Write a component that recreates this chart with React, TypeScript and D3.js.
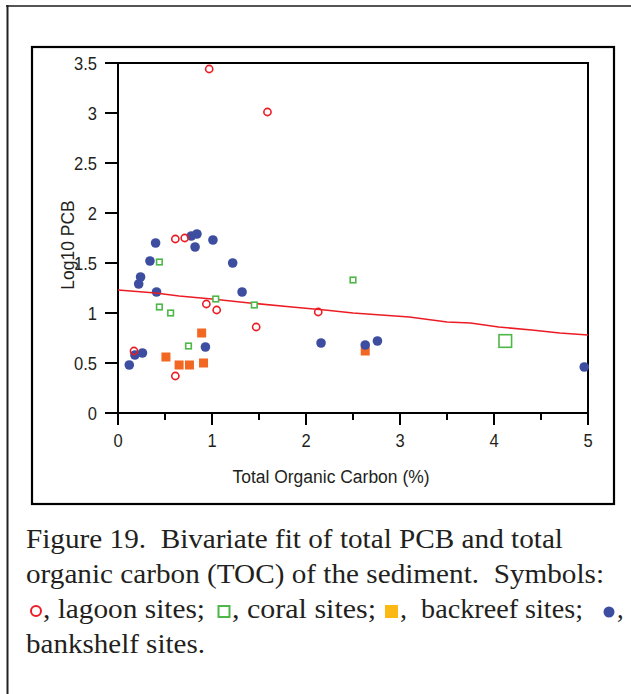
import React from "react";
import * as d3 from "d3";

// Total organic carbon (%) vs Log10 PCB, by site type
const lagoonX = [0.97, 1.59, 0.61, 0.71, 0.94, 1.05, 1.47, 2.13, 0.17, 0.61];
const lagoonY = [3.44, 3.01, 1.74, 1.75, 1.09, 1.03, 0.86, 1.01, 0.62, 0.37];

const coralX = [0.44, 0.44, 0.56, 1.04, 1.45, 0.75, 2.5];
const coralY = [1.51, 1.06, 1.0, 1.14, 1.08, 0.67, 1.33];

// coral sample plotted with an enlarged marker
const coralWideX = [4.12];
const coralWideY = [0.72];

const backreefX = [0.89, 0.51, 0.65, 0.76, 0.91, 2.63];
const backreefY = [0.8, 0.56, 0.48, 0.48, 0.5, 0.62];

const bankshelfX = [0.4, 0.78, 0.84, 0.82, 1.01, 0.34, 1.22, 0.24, 0.22, 0.41, 1.32, 0.93, 0.18, 0.26, 0.12, 2.16, 2.63, 2.76, 4.96];
const bankshelfY = [1.7, 1.77, 1.79, 1.66, 1.73, 1.52, 1.5, 1.36, 1.29, 1.21, 1.21, 0.66, 0.58, 0.6, 0.48, 0.7, 0.68, 0.72, 0.46];

// bivariate fit curve
const fitX = [0, 0.4, 0.65, 1.0, 1.4, 1.85, 2.2, 2.5, 3.1, 3.5, 3.75, 4.05, 4.4, 4.7, 5.0];
const fitY = [1.23, 1.2, 1.17, 1.14, 1.1, 1.06, 1.03, 1.0, 0.96, 0.91, 0.9, 0.86, 0.83, 0.8, 0.78];

const xTicks = [0, 1, 2, 3, 4, 5];
const xMinorTicks = [0.5, 1.5, 2.5, 3.5, 4.5];
const yTicks = [0, 0.5, 1, 1.5, 2, 2.5, 3, 3.5];

const xTitle = "Total Organic Carbon (%)";
const yTitle = "Log10 PCB";

const captionLines = [
  "Figure 19.  Bivariate fit of total PCB and total",
  "organic carbon (TOC) of the sediment.  Symbols:",
];
const captionLegend = [", lagoon sites;", ", coral sites;", ",  backreef sites;", ","];
const captionLast = "bankshelf sites.";

const RED = "#ec1c24";
const GREEN = "#4db848";
const ORANGE = "#f26722";
const BLUE = "#3d4ea0";
const YELLOW = "#fdb913";
const INK = "#231f20";

const sans = "'Liberation Sans', Arial, sans-serif";
const serif = "'Liberation Serif', 'Times New Roman', serif";

const zip = (xs: number[], ys: number[]) => xs.map((x, i) => [x, ys[i]] as [number, number]);
const keepSpaces = (s: string) => s.replace(/  /g, " \u00A0");

function Narrow(props: { x: number; y: number; anchor: string; size: number; rotate?: number; children: React.ReactNode; sx?: number }) {
  const { x, y, anchor, size, rotate = 0, children, sx = 0.92 } = props;
  return (
    <g transform={`translate(${x},${y}) rotate(${rotate}) scale(${sx},1)`}>
      <text x={0} y={0} textAnchor={anchor} fontFamily={sans} fontSize={size} fill={INK}>
        {children}
      </text>
    </g>
  );
}

function CapText(props: { x: number; y: number; x2: number; children: string }) {
  const { x, y, x2, children } = props;
  return (
    <text x={x} y={y} textLength={x2 - x} lengthAdjust="spacingAndGlyphs">
      {keepSpaces(children)}
    </text>
  );
}

export default function App() {
  const left = 118, right = 588, top = 63, bottom = 413;
  const x = d3.scaleLinear().domain([0, 5]).range([left, right]);
  const y = d3.scaleLinear().domain([0, 3.5]).range([bottom, top]);
  const line = d3.line<[number, number]>().x((d) => x(d[0])).y((d) => y(d[1]));

  const capBase = 548;
  const capStep = 35;
  const legendBase = capBase + 2 * capStep;

  return (
    <svg
      width={631}
      height={694}
      style={{ position: "absolute", left: 0, top: 0, background: "#fff" }}
    >
      <rect x={0} y={0} width={631} height={694} fill="#fff" />
      {/* outer frame */}
      <line x1={6} x2={631} y1={6} y2={6} stroke="#555" strokeWidth={2} />
      <line x1={7.5} x2={7.5} y1={5} y2={694} stroke="#222" strokeWidth={2} />
      {/* chart box */}
      <rect x={32} y={47} width={582} height={457} fill="none" stroke="#000" strokeWidth={2.2} />

      {/* plot frame */}
      <path
        d={`M${left},${bottom} V${top} H${right} V${bottom} H${left}`}
        fill="none"
        stroke="#000"
        strokeWidth={2}
      />
      {yTicks.map((t) => (
        <g key={"y" + t}>
          <line x1={left - 13} x2={left} y1={y(t)} y2={y(t)} stroke="#000" strokeWidth={2} />
          <Narrow x={left - 21} y={y(t) + 6.5} anchor="end" size={18}>
            {String(t)}
          </Narrow>
        </g>
      ))}
      {xTicks.map((t) => (
        <g key={"x" + t}>
          <line x1={x(t)} x2={x(t)} y1={bottom} y2={bottom + 12} stroke="#000" strokeWidth={2} />
          <Narrow x={x(t)} y={447} anchor="middle" size={18}>
            {String(t)}
          </Narrow>
        </g>
      ))}
      {xMinorTicks.map((t) => (
        <line key={"m" + t} x1={x(t)} x2={x(t)} y1={bottom} y2={bottom + 7} stroke="#000" strokeWidth={2} />
      ))}

      <Narrow x={331} y={483} anchor="middle" size={19}>
        {xTitle}
      </Narrow>
      <Narrow x={74} y={245} anchor="middle" size={19} rotate={-90}>
        {yTitle}
      </Narrow>

      {/* backreef sites */}
      {zip(backreefX, backreefY).map((d, i) => (
        <rect key={"b" + i} x={x(d[0]) - 4.5} y={y(d[1]) - 4.5} width={9} height={9} fill={ORANGE} />
      ))}
      {/* bankshelf sites */}
      {zip(bankshelfX, bankshelfY).map((d, i) => (
        <circle key={"s" + i} cx={x(d[0])} cy={y(d[1])} r={4.8} fill={BLUE} />
      ))}
      {/* fit */}
      <path d={line(zip(fitX, fitY)) || ""} fill="none" stroke={RED} strokeWidth={1.6} />
      {/* coral sites */}
      {zip(coralX, coralY).map((d, i) => (
        <rect key={"c" + i} x={x(d[0]) - 2.8} y={y(d[1]) - 2.8} width={5.6} height={5.6} fill="#fff" stroke={GREEN} strokeWidth={1.6} />
      ))}
      {zip(coralWideX, coralWideY).map((d, i) => (
        <rect key={"cw" + i} x={x(d[0]) - 6.3} y={y(d[1]) - 6.3} width={12.6} height={12.6} fill="none" stroke={GREEN} strokeWidth={1.6} />
      ))}
      {/* lagoon sites */}
      {zip(lagoonX, lagoonY).map((d, i) => (
        <circle key={"l" + i} cx={x(d[0])} cy={y(d[1])} r={3.6} fill="none" stroke={RED} strokeWidth={1.6} />
      ))}

      {/* caption */}
      <g fontFamily={serif} fontSize={26.5} fill={INK}>
        <CapText x={26} y={capBase} x2={563}>{captionLines[0]}</CapText>
        <CapText x={26} y={capBase + capStep} x2={604}>{captionLines[1]}</CapText>
        <circle cx={36} cy={611} r={5} fill="none" stroke={RED} strokeWidth={2} />
        <CapText x={43} y={legendBase} x2={205}>{captionLegend[0]}</CapText>
        <rect x={218.5} y={606} width={11} height={11} fill="none" stroke={GREEN} strokeWidth={2} />
        <CapText x={232} y={legendBase} x2={376}>{captionLegend[1]}</CapText>
        <rect x={385} y={605} width={13} height={13} fill={YELLOW} />
        <CapText x={400} y={legendBase} x2={583}>{captionLegend[2]}</CapText>
        <circle cx={609} cy={612} r={5.5} fill={BLUE} />
        <text x={617} y={legendBase}>{captionLegend[3]}</text>
        <CapText x={26} y={capBase + 3 * capStep} x2={205}>{captionLast}</CapText>
      </g>
    </svg>
  );
}
